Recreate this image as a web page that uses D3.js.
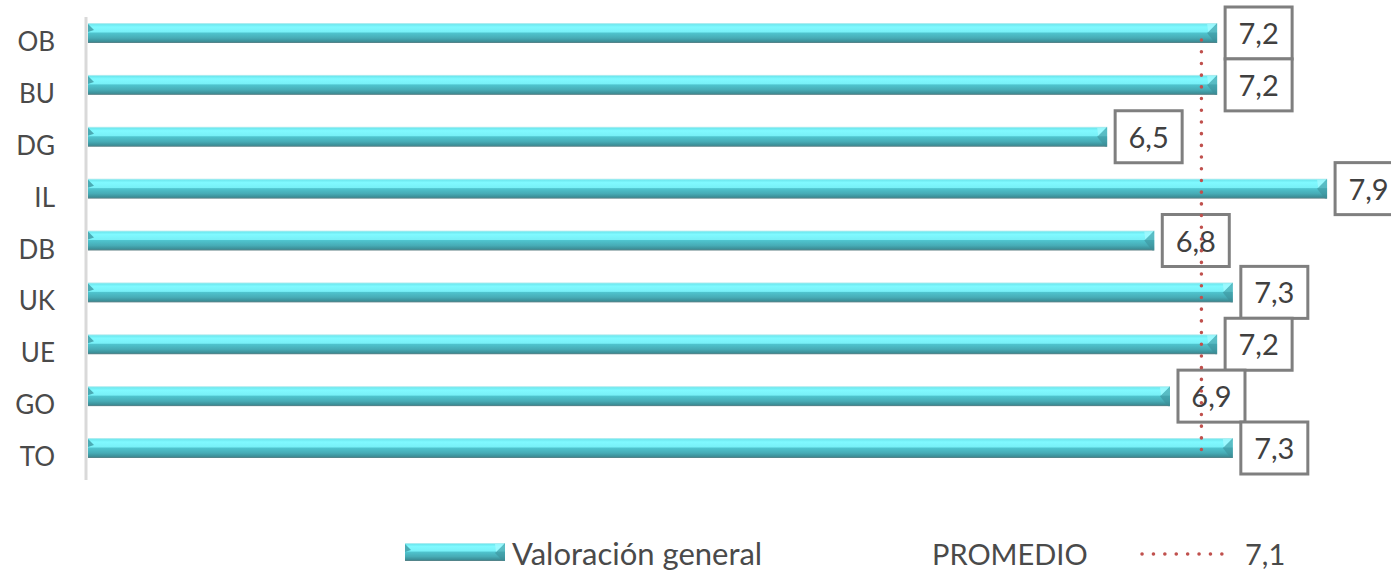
<!DOCTYPE html>
<html>
<head>
<meta charset="utf-8">
<script src="https://cdn.jsdelivr.net/npm/d3@7"></script>
<style>
  body { margin: 0; background: #fff; }
  svg { display: block; font-family: Lato, "Open Sans", sans-serif; }
</style>
</head>
<body>
<div id="chart"></div>
<script>
// data
var categories = ["OB", "BU", "DG", "IL", "DB", "UK", "UE", "GO", "TO"];
var values = [7.2, 7.2, 6.5, 7.9, 6.8, 7.3, 7.2, 6.9, 7.3];
var valueLabels = ["7,2", "7,2", "6,5", "7,9", "6,8", "7,3", "7,2", "6,9", "7,3"];
var promedio = 7.1;
var promedioLabel = "7,1";
var seriesName = "Valoración general";

var width = 1391, height = 573;
var svg = d3.select("#chart").append("svg").attr("width", width).attr("height", height);

var x = d3.scaleLinear().domain([0, 8]).range([86, 86 + 8 * 157.1]);
var y = d3.scalePoint().domain(categories).range([33, 448]);
var barH = 20;

var defs = svg.append("defs");
var grad = defs.append("linearGradient").attr("id", "barGrad")
  .attr("x1", 0).attr("y1", 0).attr("x2", 0).attr("y2", 1);
[[0, "#c9eef0"], [0.08, "#6fe9f0"], [0.2, "#80f9ff"], [0.45, "#78f0f7"], [0.5, "#4fc4ce"],
 [0.75, "#47acb6"], [0.92, "#3c8f98"], [1, "#5e7f84"]].forEach(function (s) {
  grad.append("stop").attr("offset", s[0]).attr("stop-color", s[1]);
});

function bar3d(g, x0, x1, top, h) {
  g.append("rect").attr("x", x0).attr("y", top).attr("width", x1 - x0).attr("height", h)
    .attr("fill", "url(#barGrad)");
  // left bevel
  g.append("path").attr("d", "M" + x0 + "," + (top + 1) + "L" + (x0 + 6) + "," + (top + 7) +
      "L" + x0 + "," + (top + 9) + "Z").attr("fill", "#3e98a2").attr("opacity", 0.8);
  // right bevel
  g.append("path").attr("d", "M" + (x1 - 10) + "," + (top + 10) + "L" + (x1 - 2) + "," + (top + 2) +
      "L" + x1 + "," + top + "L" + x1 + "," + (top + h) + "L" + (x1 - 2) + "," + (top + h) + "Z")
    .attr("fill", "#3d8e97").attr("opacity", 0.55);
  g.append("path").attr("d", "M" + (x1 - 10) + "," + (top + 1) + "L" + (x1 - 1) + "," + (top + 1) +
      "L" + (x1 - 9) + "," + (top + 9) + "Z").attr("fill", "#a8fbff").attr("opacity", 0.7);
}

// axis line
svg.append("line").attr("x1", x(0)).attr("x2", x(0)).attr("y1", 17).attr("y2", 480)
  .attr("stroke", "#d9d9d9").attr("stroke-width", 3);

// category labels
svg.append("g").selectAll("text").data(categories).enter().append("text")
  .attr("x", 55).attr("y", function (d) { return y(d) + 18; })
  .attr("text-anchor", "end").attr("font-size", 26).attr("fill", "#4a4a4a")
  .text(function (d) { return d; });

// bars
var bars = svg.append("g");
categories.forEach(function (c, i) {
  bar3d(bars, x(0) + 2, x(values[i]), y(c) - barH / 2, barH);
});

// value label boxes
var lab = svg.append("g");
categories.forEach(function (c, i) {
  var bx = x(values[i]) + 8, cy = y(c);
  lab.append("rect").attr("x", bx).attr("y", cy - 26).attr("width", 67).attr("height", 52)
    .attr("fill", "#fff").attr("stroke", "#7f7f7f").attr("stroke-width", 3);
  lab.append("text").attr("x", bx + 33.5).attr("y", cy + 11).attr("text-anchor", "middle")
    .attr("font-size", 29).attr("fill", "#404040").text(valueLabels[i]);
});

// promedio dotted line
svg.append("line").attr("x1", x(promedio)).attr("x2", x(promedio))
  .attr("y1", 40).attr("y2", 456)
  .attr("stroke", "#c0504d").attr("stroke-width", 3.5)
  .attr("stroke-linecap", "round").attr("stroke-dasharray", "0.1 11.6");

// legend
var leg = svg.append("g");
bar3d(leg, 405, 505, 543, 18);
leg.append("text").attr("x", 512).attr("y", 565).attr("font-size", 31).attr("fill", "#4a4a4a").text(seriesName);
leg.append("text").attr("x", 932).attr("y", 565).attr("font-size", 29).attr("fill", "#4a4a4a").text("PROMEDIO");
leg.append("line").attr("x1", 1142).attr("x2", 1233).attr("y1", 554).attr("y2", 554)
  .attr("stroke", "#c0504d").attr("stroke-width", 3.5)
  .attr("stroke-linecap", "round").attr("stroke-dasharray", "0.1 11.3");
leg.append("text").attr("x", 1245).attr("y", 565).attr("font-size", 29).attr("fill", "#4a4a4a").text(promedioLabel);
</script>
</body>
</html>
